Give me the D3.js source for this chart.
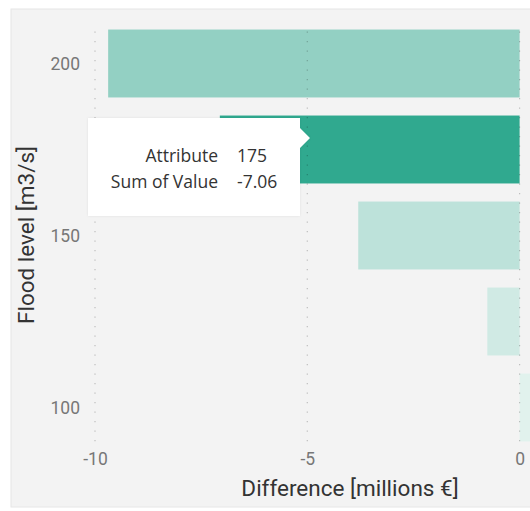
<!DOCTYPE html>
<html>
<head>
<meta charset="utf-8">
<script src="https://cdn.jsdelivr.net/npm/d3@7"></script>
<style>
  html, body { margin: 0; padding: 0; background: #ffffff; overflow: hidden; }
  svg { display: block; }
</style>
</head>
<body>
<svg id="chart" width="530" height="511"></svg>
<script>
// Flood levels (m3/s) and the damage difference for each (millions €)
const floodLevels = ["200", "175", "150", "125", "100"];
const differenceValues = [-9.69, -7.06, -3.80, -0.76, 0.30];
const barColors = ["#93d0c3", "#30a98f", "#bde2da", "#d0eae4", "#e1f2ed"];
const xTicks = [-10, -5, 0];
const yTickLabels = ["200", "150", "100"];
const highlighted = "175";

const svg = d3.select("#chart");
const W = 530;
const hyphen = s => String(s).replace("\u2212", "-");

// panel
svg.append("rect").attr("x", 11).attr("y", 9).attr("width", W).attr("height", 498)
  .attr("fill", "#f3f3f3").attr("stroke", "#e6e6e6").attr("stroke-width", 1);

const x = d3.scaleLinear().domain([-10, 0]).range([95, 519.6]);
const y = d3.scaleBand().domain(floodLevels).range([20.5, 450.5])
  .paddingInner(0.21).paddingOuter(0.105);

const data = floodLevels.map((lvl, i) => ({ level: lvl, value: differenceValues[i], color: barColors[i] }));

// bars
svg.append("g").selectAll("rect").data(data).join("rect")
  .attr("x", d => x(Math.min(0, d.value)))
  .attr("width", d => Math.abs(x(d.value) - x(0)))
  .attr("y", d => y(d.level))
  .attr("height", y.bandwidth())
  .attr("fill", d => d.color);

// dotted vertical gridlines
const gridTop = y(floodLevels[0]), gridBottom = y(floodLevels[floodLevels.length - 1]) + y.bandwidth();
svg.append("g").selectAll("line").data(xTicks).join("line")
  .attr("x1", d => x(d)).attr("x2", d => x(d))
  .attr("y1", gridTop + 2).attr("y2", gridBottom + 2)
  .attr("stroke", "rgba(0,0,0,0.22)").attr("stroke-width", 1.2)
  .attr("stroke-dasharray", "1.2,8.3");

// x axis
const xAxis = d3.axisBottom(x).tickValues(xTicks).tickSize(0).tickPadding(0)
  .tickFormat(d => hyphen(d3.format("d")(d)));
const gx = svg.append("g").attr("transform", "translate(0,450)").call(xAxis);
gx.select(".domain").remove();
gx.selectAll("text").attr("font-family", "Roboto, sans-serif").attr("font-size", 17.5)
  .attr("fill", "#777").attr("dy", "0").attr("y", 14.5);

// y axis (labels every other category)
const yAxis = d3.axisLeft(y).tickValues(yTickLabels).tickSize(0).tickPadding(0);
const gy = svg.append("g").attr("transform", "translate(80,0)").call(yAxis);
gy.select(".domain").remove();
gy.selectAll("text").attr("font-family", "Roboto, sans-serif").attr("font-size", 17.5)
  .attr("fill", "#777").attr("dy", "0.35em").attr("x", 0);

// axis titles
svg.append("text").attr("x", 350).attr("y", 496).attr("text-anchor", "middle")
  .attr("font-family", "Roboto, sans-serif").attr("font-size", 22.5).attr("fill", "#333")
  .text("Difference [millions €]");
svg.append("text").attr("transform", "translate(34,235) rotate(-90)").attr("text-anchor", "middle")
  .attr("font-family", "Roboto, sans-serif").attr("font-size", 22.5).attr("fill", "#333")
  .text("Flood level [m3/s]");

// tooltip for the highlighted bar
const hi = data.find(d => d.level === highlighted);
const tip = svg.append("g").attr("transform", "translate(88,118)");
tip.append("path")
  .attr("d", "M0,0 H212 V10 L222,20 L212,30 V98 H0 Z")
  .attr("fill", "#ffffff")
  .style("filter", "drop-shadow(0 0 1px rgba(0,0,0,0.08))");
const rows = [["Attribute", hi.level], ["Sum of Value", hyphen(d3.format(".2f")(hi.value))]];
rows.forEach((r, i) => {
  tip.append("text").attr("x", 130).attr("y", 44 + i * 26).attr("text-anchor", "end")
    .attr("font-family", "'Open Sans', sans-serif").attr("font-size", 17.5).attr("fill", "#333")
    .text(r[0]);
  tip.append("text").attr("x", 149).attr("y", 44 + i * 26)
    .attr("font-family", "'Open Sans', sans-serif").attr("font-size", 17.5).attr("fill", "#333")
    .text(r[1]);
});
</script>
</body>
</html>
